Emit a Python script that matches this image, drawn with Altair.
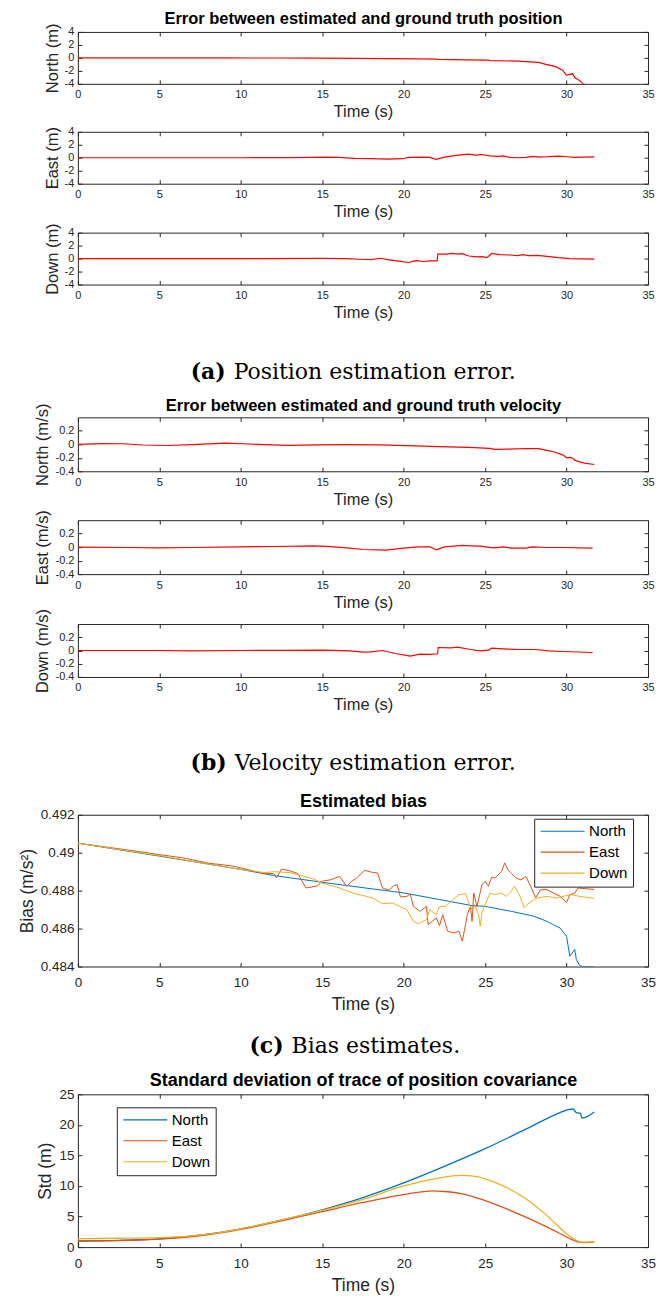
import altair as alt
import pandas as pd

# ---------------- (a) position error (m) ----------------
pn_t = [0, 3, 6, 9, 12, 15, 17, 19, 21, 22.0, 22.1, 24, 25.2, 25.3, 27, 28.28, 28.73, 29.34, 29.75, 29.99, 30.2, 30.36, 30.53, 30.67, 30.81, 31.02, 31.3, 31.7]
pn_v = [0, 0, 0, -0.01, -0.02, -0.05, -0.08, -0.11, -0.15, -0.18, -0.22, -0.3, -0.35, -0.42, -0.5, -0.68, -1.0, -1.35, -1.9, -2.65, -2.55, -2.45, -3.1, -3.3, -3.5, -4.0, -4.3, -4.8]
pe_t = [0, 5, 10, 13, 14.5, 15.2, 16, 17, 18, 19, 19.9, 20.3, 21.2, 21.6, 22.0, 22.5, 23, 23.5, 24, 24.4, 24.8, 25.3, 25.8, 26.1, 26.5, 27, 27.5, 27.9, 28.4, 28.8, 29.5, 30.0, 30.5, 31.0, 31.7]
pe_v = [0, 0, 0, 0.02, 0.05, 0.1, 0.05, -0.1, -0.15, -0.2, -0.15, 0.05, 0.1, 0.05, -0.25, 0.1, 0.3, 0.45, 0.55, 0.4, 0.5, 0.3, 0.2, 0.3, 0.05, 0.0, 0.05, 0.2, 0.1, 0.15, 0.25, 0.15, 0.05, 0.1, 0.12]
pd_t = [0, 5, 10, 15, 16.5, 17.3, 18, 18.6, 19.1, 19.7, 20.3, 20.6, 20.8, 21.2, 21.6, 22.05, 22.1, 22.6, 23.0, 23.3, 23.6, 24.0, 24.5, 24.8, 25.1, 25.25, 25.4, 25.9, 26.5, 27.0, 27.3, 27.7, 28.2, 28.8, 29.5, 30.2, 31.0, 31.7]
pd_v = [0, 0, 0, 0.02, 0.0, -0.1, -0.15, 0.05, -0.2, -0.4, -0.6, -0.4, -0.3, -0.45, -0.35, -0.35, 0.7, 0.7, 0.8, 0.7, 0.75, 0.4, 0.25, 0.3, 0.15, 0.45, 0.8, 0.6, 0.55, 0.45, 0.6, 0.45, 0.5, 0.35, 0.15, 0.0, -0.05, -0.07]

# ---------------- (b) velocity error (m/s) ----------------
vn_t = [0, 1.5, 2.75, 4, 5.5, 7, 9, 11, 12.9, 14.5, 16.5, 18.5, 20.2, 22.2, 24, 25.3, 25.6, 26.5, 27.5, 28.3, 28.7, 29.2, 29.8, 30.0, 30.2, 30.4, 30.5, 30.8, 31.1, 31.7]
vn_v = [0, 0.01, 0.008, -0.01, -0.018, -0.005, 0.018, 0.0, -0.015, -0.008, -0.005, -0.008, -0.02, -0.035, -0.045, -0.06, -0.075, -0.07, -0.062, -0.065, -0.085, -0.11, -0.16, -0.2, -0.195, -0.21, -0.235, -0.26, -0.28, -0.3]
ve_t = [0, 3, 5, 7, 10, 12, 14.5, 15.5, 16.5, 17.5, 18.9, 19.96, 20.9, 21.6, 22.0, 22.5, 23.6, 24.1, 24.7, 25.5, 26.1, 26.6, 27.5, 27.9, 28.7, 29.8, 31.6]
ve_v = [0, -0.005, -0.01, -0.005, 0.005, 0.01, 0.02, 0.008, -0.01, -0.035, -0.045, -0.015, 0.005, 0.005, -0.04, 0.005, 0.025, 0.02, 0.015, -0.01, 0.005, -0.015, -0.015, 0.005, -0.005, -0.005, -0.015]
vd_t = [0, 5, 7, 10, 13, 15, 16.7, 17.5, 18.0, 18.7, 19.5, 20.4, 21.0, 21.6, 22.08, 22.12, 22.9, 23.3, 24.1, 24.7, 25.2, 25.4, 26.1, 27.1, 28.1, 28.9, 29.8, 31.6]
vd_v = [0, 0, -0.005, 0, 0.003, 0.005, -0.005, -0.025, -0.02, 0.0, -0.045, -0.085, -0.055, -0.06, -0.05, 0.045, 0.04, 0.05, 0.015, -0.005, 0.005, 0.035, 0.025, 0.015, 0.015, -0.005, -0.015, -0.03]

# ---------------- (c) bias estimates (m/s^2) ----------------
bn_t = [0, 5, 10, 12, 15, 17.2, 20, 22.2, 24.2, 25, 26.6, 28, 28.8, 29.2, 29.6, 30.0, 30.2, 30.5, 30.6, 30.8, 31.0, 31.7]
bn_v = [0.4905, 0.48982, 0.48912, 0.4888, 0.48844, 0.48819, 0.48788, 0.48753, 0.48721, 0.48717, 0.48691, 0.48665, 0.48638, 0.4862, 0.48603, 0.48559, 0.48454, 0.4849, 0.48437, 0.48405, 0.484, 0.484]
be_t = [0, 3, 5, 6.5, 8, 9.5, 10.5, 11.3, 12, 12.2, 12.5, 13, 13.5, 14.0, 14.7, 15.0, 15.5, 16.06, 16.5, 16.8, 17.1, 17.6, 18.1, 18.4, 18.7, 19.1, 19.4, 19.6, 19.8, 20.2, 20.4, 20.6, 21.0, 21.4, 21.5, 22.0, 22.2, 22.4, 22.7, 23.1, 23.4, 23.6, 23.8, 23.9, 24.1, 24.2, 24.3, 24.5, 24.6, 24.8, 25.0, 25.2, 25.4, 25.6, 26.0, 26.2, 26.4, 26.6, 26.9, 27.2, 27.5, 27.8, 28.1, 28.4, 28.8, 29.2, 29.6, 30.0, 30.2, 30.5, 30.7, 31.7]
be_v = [0.4905, 0.49015, 0.4899, 0.48972, 0.48945, 0.4893, 0.4891, 0.48892, 0.4889, 0.48867, 0.48914, 0.48905, 0.4889, 0.48814, 0.48825, 0.4885, 0.48857, 0.48875, 0.48823, 0.48849, 0.48866, 0.48907, 0.48896, 0.48893, 0.48814, 0.48802, 0.48826, 0.48832, 0.48767, 0.4877, 0.48782, 0.48717, 0.48691, 0.48717, 0.48621, 0.48656, 0.48616, 0.48673, 0.48586, 0.48577, 0.48586, 0.48533, 0.48621, 0.48673, 0.48717, 0.48638, 0.48787, 0.48717, 0.48752, 0.4883, 0.48849, 0.48823, 0.48871, 0.48866, 0.48901, 0.48946, 0.4891, 0.48893, 0.48866, 0.48857, 0.48875, 0.48823, 0.48762, 0.48805, 0.48805, 0.48787, 0.4877, 0.48738, 0.48779, 0.48787, 0.48814, 0.48806]
bd_t = [0, 5, 8, 10, 11.5, 12, 13, 13.5, 14.5, 15, 16.06, 16.9, 17.7, 18.1, 18.7, 19.3, 20.2, 20.6, 20.9, 21.4, 21.6, 22.0, 22.2, 22.6, 23.0, 23.4, 23.8, 24.0, 24.2, 24.4, 24.6, 24.7, 24.8, 25.0, 25.3, 25.6, 26.0, 26.3, 26.6, 26.8, 27.1, 27.4, 27.7, 28.2, 28.8, 29.4, 30.2, 30.8, 31.7]
bd_v = [0.4905, 0.48985, 0.4894, 0.48912, 0.48895, 0.489, 0.48895, 0.48885, 0.4886, 0.4884, 0.48814, 0.48787, 0.4877, 0.48761, 0.48731, 0.48735, 0.487, 0.48638, 0.48626, 0.48647, 0.487, 0.48673, 0.48717, 0.48717, 0.48752, 0.48779, 0.48784, 0.48735, 0.487, 0.48717, 0.48673, 0.48612, 0.48682, 0.48726, 0.48787, 0.48779, 0.48787, 0.4877, 0.48796, 0.48823, 0.48779, 0.48709, 0.48735, 0.48761, 0.4877, 0.48761, 0.48779, 0.4877, 0.48759]

# ---------------- (d) std of position covariance (m) ----------------
sn_t = [0, 2.5, 5, 7.6, 10, 12.5, 15, 17.5, 20, 22.5, 25, 27.5, 29.6, 30.1, 30.4, 30.6, 30.85, 30.95, 31.7]
sn_v = [1.0, 1.1, 1.35, 2.0, 3.0, 4.4, 6.1, 8.1, 10.5, 13.2, 16.1, 19.3, 22.0, 22.5, 22.6, 22.0, 21.9, 21.1, 22.1]
se_t = [0, 2.5, 5, 7.6, 10, 12.5, 15, 17.5, 20, 21.8, 22.5, 23.8, 25, 27.5, 29.5, 30.3, 30.8, 31.2, 31.7]
se_v = [1.0, 1.05, 1.3, 1.9, 2.9, 4.3, 5.8, 7.3, 8.6, 9.2, 9.1, 8.6, 7.6, 4.9, 2.35, 1.25, 0.8, 0.75, 0.85]
sd_t = [0, 2.5, 5, 7.6, 10, 12.5, 15, 17.5, 20, 22, 23.5, 24.5, 25, 26.5, 27.5, 28.8, 30, 30.5, 31, 31.7]
sd_v = [1.4, 1.45, 1.55, 2.0, 3.0, 4.45, 6.0, 7.8, 10.0, 11.2, 11.75, 11.55, 11.15, 9.5, 7.9, 5.15, 2.2, 1.25, 0.8, 0.9]

SERIES = ["North", "East", "Down"]
COLORS = ["#0072BD", "#D95319", "#EDB120"]
X_TICKS = [0, 5, 10, 15, 20, 25, 30, 35]
POS_TICKS = [-4, -2, 0, 2, 4]
VEL_TICKS = [-0.4, -0.2, 0, 0.2]
BIAS_TICKS = [0.484, 0.486, 0.488, 0.49, 0.492]
STD_TICKS = [0, 5, 10, 15, 20, 25]

W = 571
TK = 4
AXC = "#262626"
FONT = "Liberation Sans"
SERIF = "DejaVu Serif"
RED = "#FF0000"
FIX = "replace(datum.label, '\u2212', '-')"


def long_df(ts, vs):
    rows = []
    for name, t, v in zip(SERIES, ts, vs):
        for a, b in zip(t, v):
            rows.append({"t": a, "v": b, "s": name})
    return pd.DataFrame(rows)


def panel(df, ytitle, ydom, yticks, height, big=False, title="", ttpad=5, legend=None,
          interp="linear", sw=1.2):
    lf = 13.5 if big else 11
    tf = 17.5 if big else 16.5
    lp = 9 if big else 5
    tp = 7 if big else 4
    xs = alt.Scale(domain=[0, 35], nice=False, zero=False)
    ys = alt.Scale(domain=ydom, nice=False, zero=False)
    xa = alt.Axis(values=X_TICKS, title="Time (s)", orient="bottom", offset=-TK, tickSize=TK,
                  domain=False, grid=False, labelFlush=False, labelOverlap=False,
                  labelFontSize=lf, labelPadding=lp, titleFontSize=tf, titlePadding=tp, format="~g")
    ya = alt.Axis(values=yticks, title=ytitle, orient="left", offset=-TK, tickSize=TK,
                  domain=False, grid=False, labelFlush=False, labelOverlap=False,
                  labelFontSize=lf, labelPadding=4, titleFontSize=tf, titlePadding=4,
                  format="~g", labelExpr=FIX)
    xm = alt.Axis(values=X_TICKS, orient="top", offset=-TK, tickSize=TK, labels=False,
                  title=title, titleFontSize=(18 if big else 16.5), titleFontWeight="bold",
                  titleColor="black", titlePadding=ttpad, domain=False, grid=False)
    ym = alt.Axis(values=yticks, orient="right", offset=-TK, tickSize=TK, labels=False,
                  title="", domain=False, grid=False)
    base = alt.Chart(df)
    if legend is None:
        main = base.mark_line(color=RED, strokeWidth=sw, clip=True, interpolate=interp).encode(
            x=alt.X("t:Q", scale=xs, axis=xa), y=alt.Y("v:Q", scale=ys, axis=ya))
    else:
        main = base.mark_line(strokeWidth=sw, clip=True, interpolate=interp).encode(
            x=alt.X("t:Q", scale=xs, axis=xa), y=alt.Y("v:Q", scale=ys, axis=ya),
            color=alt.Color("s:N", scale=alt.Scale(domain=SERIES, range=COLORS), legend=legend))
    mirror = base.mark_line(strokeOpacity=0, clip=True).encode(
        x=alt.X("t:Q", scale=xs, axis=xm), y=alt.Y("v:Q", scale=ys, axis=ym))
    return alt.layer(main, mirror).resolve_axis(x="independent", y="independent").properties(
        width=W, height=height)


def caption(bold, rest, split, height, ty):
    base = alt.Chart(pd.DataFrame({"k": [0]}))
    b = base.mark_text(text=bold, font=SERIF, fontSize=22, fontWeight="bold", align="right",
                       baseline="middle", color="black").encode(x=alt.value(split - 8), y=alt.value(ty))
    r = base.mark_text(text=rest, font=SERIF, fontSize=22, align="left",
                       baseline="middle", color="black").encode(x=alt.value(split), y=alt.value(ty))
    return alt.layer(b, r).properties(width=W, height=height,
                                      view=alt.ViewBackground(strokeOpacity=0))


def spacer(height):
    return alt.Chart(pd.DataFrame({"k": [0]})).mark_point(opacity=0).encode(
        x=alt.value(0), y=alt.value(0)).properties(width=W, height=height,
                                                   view=alt.ViewBackground(strokeOpacity=0))


def leg(x, y):
    return alt.Legend(title=None, orient="none", legendX=x, legendY=y, symbolType="M-4,0H4",
                      symbolSize=121, symbolStrokeWidth=1.2, labelFontSize=15, labelFont=FONT,
                      labelColor="black", padding=5, rowPadding=5, symbolOffset=16,
                      labelOffset=19, strokeColor=AXC, fillColor="white", direction="vertical")


p1 = panel(pd.DataFrame({"t": pn_t, "v": pn_v}), "North (m)", [-4, 4], POS_TICKS, 52,
           title="Error between estimated and ground truth position", ttpad=5)
p2 = panel(pd.DataFrame({"t": pe_t, "v": pe_v}), "East (m)", [-4, 4], POS_TICKS, 52)
p3 = panel(pd.DataFrame({"t": pd_t, "v": pd_v}), "Down (m)", [-4, 4], POS_TICKS, 52)

v1 = panel(pd.DataFrame({"t": vn_t, "v": vn_v}), "North (m/s)", [-0.4, 0.4], VEL_TICKS, 54,
           title="Error between estimated and ground truth velocity", ttpad=3)
v2 = panel(pd.DataFrame({"t": ve_t, "v": ve_v}), "East (m/s)", [-0.4, 0.4], VEL_TICKS, 54)
v3 = panel(pd.DataFrame({"t": vd_t, "v": vd_v}), "Down (m/s)", [-0.4, 0.4], VEL_TICKS, 53)

bias = panel(long_df([bn_t, be_t, bd_t], [bn_v, be_v, bd_v]), "Bias (m/s²)", [0.484, 0.492],
             BIAS_TICKS, 152, big=True, title="Estimated bias", ttpad=4, legend=leg(457, 4), sw=1.0)
std = panel(long_df([sn_t, se_t, sd_t], [sn_v, se_v, sd_v]), "Std (m)", [0, 25], STD_TICKS, 153,
            big=True, title="Standard deviation of trace of position covariance", ttpad=4,
            legend=leg(39, 13), interp="monotone", sw=1.3)

capA = caption("(a)", "Position estimation error.", 156, 133, 88)
capB = caption("(b)", "Velocity estimation error.", 157, 138, 86)
capC = caption("(c)", "Bias estimates.", 214, 128, 80)

chart = alt.vconcat(
    p1, spacer(48), p2, spacer(49), p3, capA,
    v1, spacer(49), v2, spacer(50), v3, capB,
    bias, capC, std,
    spacing=0, bounds="flush"
).resolve_scale(color="independent").resolve_legend(color="independent").properties(
    padding={"left": 17, "top": 9, "right": 4, "bottom": 4}
).configure_view(stroke=AXC, strokeWidth=1).configure_axis(
    tickColor=AXC, labelColor=AXC, titleColor=AXC, labelFont=FONT, titleFont=FONT,
    titleFontWeight="normal", tickWidth=1
)

chart.save("out.html", embed_options={"renderer": "svg", "actions": False})
